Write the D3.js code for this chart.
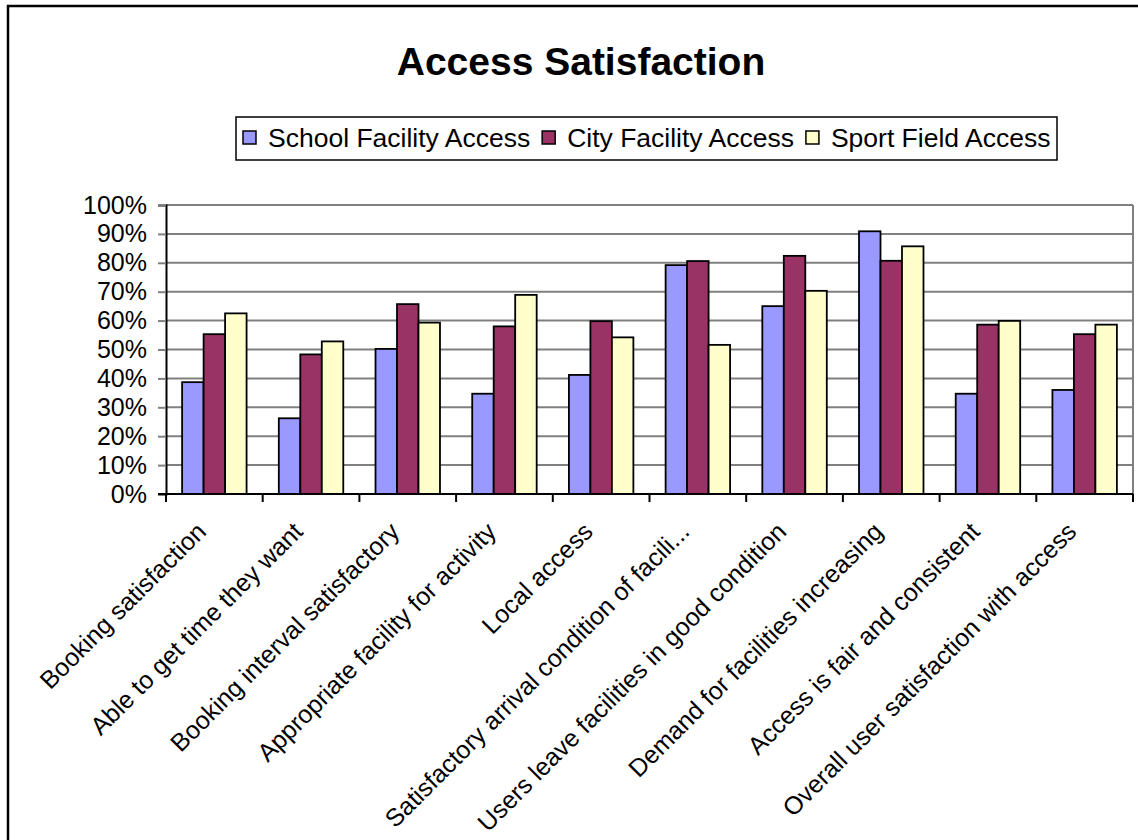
<!DOCTYPE html>
<html>
<head>
<meta charset="utf-8">
<script src="https://cdn.jsdelivr.net/npm/d3@7"></script>
<style>
  html, body { margin: 0; padding: 0; background: #fff; }
  svg { display: block; font-family: Arial, "Liberation Sans", sans-serif; }
</style>
</head>
<body>
<svg id="chart" width="1138" height="840"></svg>
<script>
const categories = [
  "Booking satisfaction",
  "Able to get time they want",
  "Booking interval satisfactory",
  "Appropriate facility for activity",
  "Local access",
  "Satisfactory arrival condition of facili...",
  "Users leave facilities in good condition",
  "Demand for facilities increasing",
  "Access is fair and consistent",
  "Overall user satisfaction with access"
];
const seriesNames = ["School Facility Access", "City Facility Access", "Sport Field Access"];
const schoolValues = [38.7, 26.2, 50.2, 34.7, 41.2, 79.2, 65.0, 90.9, 34.7, 36.0];
const cityValues   = [55.3, 48.3, 65.7, 58.0, 59.8, 80.6, 82.4, 80.7, 58.6, 55.3];
const sportValues  = [62.5, 52.8, 59.3, 68.9, 54.2, 51.6, 70.3, 85.7, 59.9, 58.6];
const yTicks = [0, 10, 20, 30, 40, 50, 60, 70, 80, 90, 100];
const colors = ["#9999FF", "#993366", "#FFFFCC"];

const seriesValues = [schoolValues, cityValues, sportValues];
const svg = d3.select("#chart");

// outer frame
svg.append("rect").attr("x", 8).attr("y", 6).attr("width", 1300).attr("height", 1000)
  .attr("fill", "#fff").attr("stroke", "#000").attr("stroke-width", 2.5);

const pLeft = 166, pRight = 1133, pTop = 205, pBottom = 494;

const x = d3.scaleBand().domain(categories).range([pLeft, pRight])
  .paddingInner(1.5 / 4.5).paddingOuter(0.75 / 4.5);
const xs = d3.scaleBand().domain(d3.range(3)).range([0, x.bandwidth()]);
const y = d3.scaleLinear().domain([0, 100]).range([pBottom, pTop]);

// gridlines
svg.append("g").selectAll("line").data(yTicks.filter(d => d > 0)).join("line")
  .attr("x1", pLeft).attr("x2", pRight)
  .attr("y1", d => y(d)).attr("y2", d => y(d))
  .attr("stroke", "#808080").attr("stroke-width", 2);
// right border of plot area
svg.append("line").attr("x1", pRight).attr("x2", pRight).attr("y1", pTop).attr("y2", pBottom)
  .attr("stroke", "#808080").attr("stroke-width", 2);

// y axis
const yAxis = d3.axisLeft(y).tickValues(yTicks).tickFormat(d => d + "%").tickSize(8).tickPadding(11);
const gy = svg.append("g").attr("transform", `translate(${pLeft},0)`).call(yAxis);
gy.select(".domain").attr("stroke", "#000").attr("stroke-width", 2);
gy.selectAll(".tick line").attr("stroke", "#808080").attr("stroke-width", 2);
gy.selectAll(".tick text").attr("font-size", 25).attr("fill", "#000")
  .attr("font-family", "Arial, 'Liberation Sans', sans-serif");

// bars
const groups = svg.append("g").selectAll("g").data(categories).join("g")
  .attr("transform", d => `translate(${x(d)},0)`);
groups.selectAll("rect").data((d, i) => seriesValues.map((s, j) => ({ j, v: s[i] }))).join("rect")
  .attr("x", d => xs(d.j)).attr("width", xs.bandwidth())
  .attr("y", d => y(d.v)).attr("height", d => y(0) - y(d.v))
  .attr("fill", d => colors[d.j]).attr("stroke", "#000").attr("stroke-width", 1.8);

// x axis
const step = x.step();
svg.append("line").attr("x1", pLeft - 8).attr("x2", pRight).attr("y1", pBottom).attr("y2", pBottom)
  .attr("stroke", "#000").attr("stroke-width", 2);
svg.append("g").selectAll("line").data(d3.range(categories.length + 1)).join("line")
  .attr("x1", i => pLeft + i * step).attr("x2", i => pLeft + i * step)
  .attr("y1", pBottom).attr("y2", pBottom + 8)
  .attr("stroke", "#000").attr("stroke-width", 2);

// category labels
svg.append("g").selectAll("text").data(categories).join("text")
  .attr("transform", d => `translate(${x(d) + x.bandwidth() / 2 - 13},${pBottom + 33}) rotate(-45)`)
  .attr("text-anchor", "end").attr("dy", "0.35em")
  .attr("font-size", 25).attr("fill", "#000")
  .text(d => d);

// title
svg.append("text").attr("x", 581).attr("y", 75).attr("text-anchor", "middle")
  .attr("font-size", 39).attr("font-weight", "bold").attr("fill", "#000")
  .text("Access Satisfaction");

// legend
const lg = svg.append("g");
lg.append("rect").attr("x", 236).attr("y", 117).attr("width", 821).attr("height", 43)
  .attr("fill", "#fff").attr("stroke", "#000").attr("stroke-width", 1.5);
let lx = 243;
seriesNames.forEach((name, j) => {
  lg.append("rect").attr("x", lx).attr("y", 131).attr("width", 13).attr("height", 13)
    .attr("fill", colors[j]).attr("stroke", "#000").attr("stroke-width", 1.5);
  const t = lg.append("text").attr("x", lx + 25).attr("y", 147)
    .attr("font-size", 26.5).attr("fill", "#000").text(name);
  lx = lx + 25 + t.node().getComputedTextLength() + 12;
});
</script>
</body>
</html>
